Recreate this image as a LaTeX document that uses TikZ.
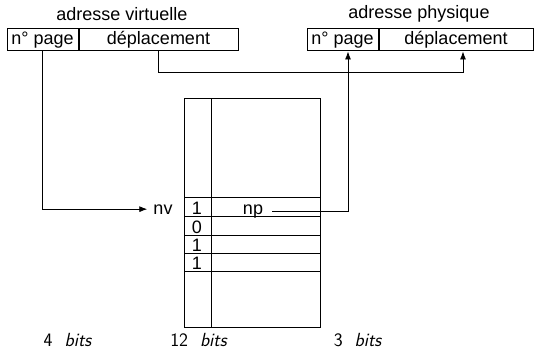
\documentclass[tikz,border=0pt]{standalone}
\usepackage{fontspec}
\setmainfont{Liberation Sans}
\usetikzlibrary{positioning, arrows.meta}

\tikzset{
  field/.style={draw, line width=1pt, minimum height=22pt, inner sep=0pt,
    font=\fontsize{18}{20}\selectfont},
  cell/.style={inner sep=1pt, font=\fontsize{18}{20}\selectfont},
  bitlabel/.style={inner sep=0pt, anchor=base, font=\sffamily\fontsize{19}{21}\selectfont},
  link/.style={line width=0.8pt, -{Latex[length=8pt,width=6pt]}},
}

\begin{document}
\begin{tikzpicture}[x=1pt, y=-1pt]
    \useasboundingbox (0,0) rectangle (534,350);

    % Virtual address
    \node[field, minimum width=71pt] (vpage) at (42.5,40) {n° page};
    \node[field, minimum width=159pt, right=0pt of vpage] (vdep) {déplacement};
    \node[cell] (vname) at (122,14) {adresse virtuelle};

    % Physical address
    \node[field, minimum width=71pt] (ppage) at (342.5,40) {n° page};
    \node[field, minimum width=154pt, right=0pt of ppage] (pdep) {déplacement};
    \node[cell] (pname) at (419,14) {adresse physique};

    % Page table
    \node[draw, line width=1.2pt, anchor=north west, minimum width=136pt,
      minimum height=229pt, inner sep=0pt] (table) at (184,98) {};
    \draw[line width=0.8pt] (211,98) -- (211,327);
    \foreach \y in {197,216,235,253,271}
        \draw[line width=0.8pt] (184,\y) -- (320,\y);
    \foreach \b/\y [count=\i] in {1/214,0/233,1/251,1/269}
        \node[cell, anchor=base] (bit\i) at (197,\y) {\b};
    \node[cell, anchor=base] (np) at (253,214) {np};
    \node[cell, anchor=base] (nv) at (163,214) {nv};

    % Connections
    \coordinate (ptop) at ([xshift=5.5pt]ppage.south);
    \coordinate (dtop) at ([xshift=7pt]pdep.south);
    \draw[link] (vpage.south) |- ([xshift=-5pt]nv.west);
    \draw[link] (vdep.south) -- ++(0,21) -| (dtop);
    \draw[link] ([xshift=8pt]np.east) -| (ptop);

    % Field widths
    \node[bitlabel] (w1) at (68,346) {4~~\textit{bits}};
    \node[bitlabel] (w2) at (199,346) {12~~\textit{bits}};
    \node[bitlabel] (w3) at (358,346) {3~~\textit{bits}};
\end{tikzpicture}
\end{document}
